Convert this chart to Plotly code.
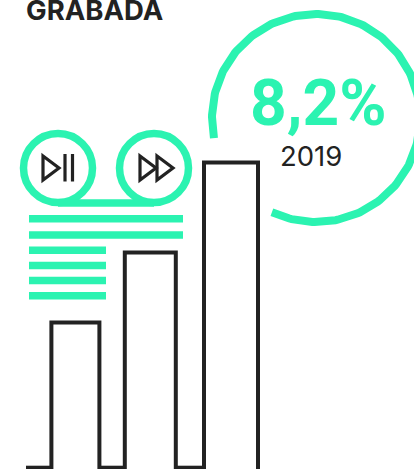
import numpy as np
import plotly.graph_objects as go

# valores (altura de cada barra, sin escala publicada)
bar_centers = [75.4, 150.3, 231.0]
bar_widths = [48, 51, 54]
bar_values = [145, 215, 305]

percent_label = "8,2%"
year_label = "2019"
title_label = "GRABADA"

GREEN = "#2BF3B1"
DARK = "#222222"
WIDTH, HEIGHT = 414, 469


def py(pixel):
    """Pasa de pixel de pantalla a unidad del eje y"""
    return 467.5 - pixel


fig = go.Figure()

# barras abiertas por abajo: la base queda fuera del area visible
fig.add_trace(go.Bar(
    x=bar_centers,
    y=[v + 8 for v in bar_values],
    base=-8,
    width=bar_widths,
    marker=dict(color="rgba(0,0,0,0)", line=dict(color=DARK, width=4)),
))

# linea de base entre barras
base_x, base_y = [26], [0]
for c, w in zip(bar_centers, bar_widths):
    base_x += [c - w / 2, None, c + w / 2]
    base_y += [0, None, 0]
base_x, base_y = base_x[:-2], base_y[:-2]
fig.add_trace(go.Scatter(
    x=base_x, y=base_y, mode="lines",
    line=dict(color=DARK, width=3.6),
))

# arco grande, abierto abajo a la izquierda
theta = np.radians(np.linspace(168.9, 475.1, 240))
fig.add_trace(go.Scatter(
    x=316 + 104 * np.cos(theta),
    y=py(118 + 104 * np.sin(theta)),
    mode="lines",
    line=dict(color=GREEN, width=8),
    cliponaxis=True,
))

shapes = []

# bobinas del reproductor y cinta
for cx in (58, 154):
    shapes.append(dict(
        type="circle", x0=cx - 34.5, x1=cx + 34.5, y0=py(168 + 34.5), y1=py(168 - 34.5),
        line=dict(color=GREEN, width=7.5),
    ))
shapes.append(dict(type="line", x0=58, x1=154, y0=py(203), y1=py(203),
                   line=dict(color=GREEN, width=7.5)))

# lineas de texto simuladas
for y_px, x1 in [(218.7, 183), (235, 183), (250.3, 106), (265.5, 106), (280.5, 106), (295.7, 106)]:
    shapes.append(dict(type="line", x0=29, x1=x1, y0=py(y_px), y1=py(y_px),
                       line=dict(color=GREEN, width=7.5)))

# iconos
icon_line = dict(color=DARK, width=3.2)
triangles = [(43, 59), (140, 156), (157, 173)]
for x0, x1 in triangles:
    shapes.append(dict(
        type="path",
        path=f"M {x0},{py(156)} L {x1},{py(168)} L {x0},{py(180)} Z",
        line=icon_line,
    ))
for x in (65, 72.5):
    shapes.append(dict(type="line", x0=x, x1=x, y0=py(154), y1=py(181.5), line=icon_line))

fig.update_layout(
    width=WIDTH,
    height=HEIGHT,
    margin=dict(l=0, r=0, t=0, b=0),
    paper_bgcolor="white",
    plot_bgcolor="white",
    showlegend=False,
    xaxis=dict(range=[0, WIDTH], visible=False),
    yaxis=dict(range=[py(HEIGHT), py(0)], visible=False),
    shapes=shapes,
    annotations=[
        dict(text=f"<b>{percent_label}</b>", x=318.5, y=py(103), xref="x", yref="y", showarrow=False,
             font=dict(family="Roboto", size=64, color=GREEN)),
        dict(text=year_label, x=310.5, y=py(155.5), xref="x", yref="y", showarrow=False,
             font=dict(family="Inter", size=27.5, color=DARK)),
        dict(text=f"<b>{title_label}</b>", x=24, y=py(9.5), xref="x", yref="y", xanchor="left", showarrow=False,
             font=dict(family="Inter", size=27.5, color=DARK)),
    ],
)

fig.write_html("out.html", config={"displayModeBar": False},
               post_script="document.body.style.margin='0';document.body.style.overflow='hidden';")
